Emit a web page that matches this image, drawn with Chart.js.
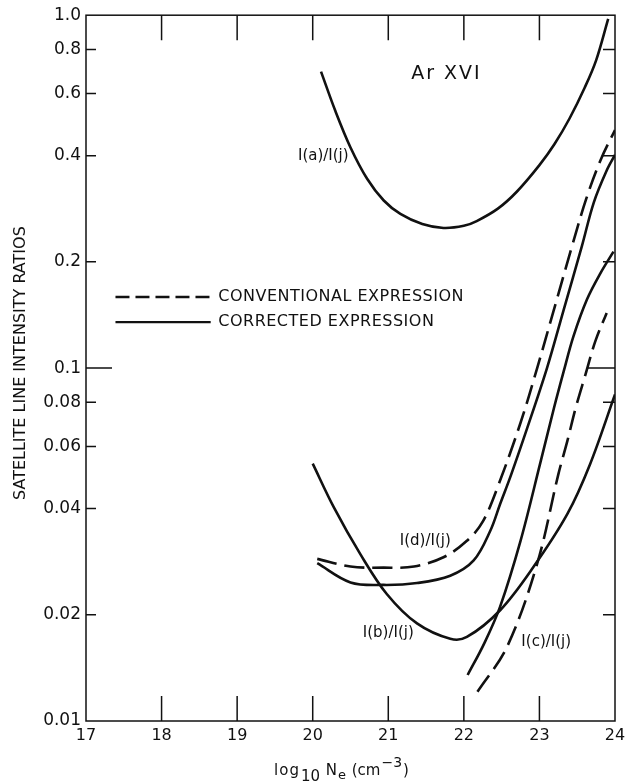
<!DOCTYPE html>
<html>
<head>
<meta charset="utf-8">
<script src="https://cdn.jsdelivr.net/npm/chart.js@4.4.0/dist/chart.umd.min.js"></script>
<style>
  html, body { margin: 0; padding: 0; background: #fff; }
</style>
</head>
<body>
<canvas id="satChart" width="635" height="784"></canvas>
<script>
// Axis ticks
const xTicks = [17, 18, 19, 20, 21, 22, 23, 24];
const yTicks = [1.0, 0.8, 0.6, 0.4, 0.2, 0.1, 0.08, 0.06, 0.04, 0.02, 0.01];
const yTickLabels = ['1.0', '0.8', '0.6', '0.4', '0.2', '0.1', '0.08', '0.06', '0.04', '0.02', '0.01'];

// I(a)/I(j) - corrected expression
const iaX = [20.11, 20.30, 20.50, 20.72, 20.94, 21.16, 21.45, 21.73, 22.0, 22.17, 22.45, 22.70, 23.0, 23.2, 23.4, 23.6, 23.75, 23.91];
const iaY = [0.692, 0.535, 0.422, 0.344, 0.2985, 0.2735, 0.256, 0.2495, 0.253, 0.261, 0.283, 0.316, 0.376, 0.4315, 0.5105, 0.624, 0.745, 0.977];

// I(d)/I(j) - conventional expression
const idConvX = [20.06, 20.5, 20.94, 21.34, 21.73, 22.04, 22.25, 22.46, 22.75, 22.97, 23.19, 23.43, 23.62, 23.81, 24.0];
const idConvY = [0.0288, 0.0274, 0.0272, 0.0274, 0.0291, 0.0324, 0.0367, 0.0468, 0.070, 0.1, 0.146, 0.221, 0.302, 0.389, 0.473];

// I(d)/I(j) - corrected expression
const idCorrX = [20.06, 20.5, 20.94, 21.38, 21.82, 22.13, 22.35, 22.48, 22.62, 22.83, 23.1, 23.32, 23.56, 23.72, 23.89, 24.0];
const idCorrY = [0.028, 0.0247, 0.0243, 0.0246, 0.0258, 0.0285, 0.0346, 0.0412, 0.0495, 0.0668, 0.1, 0.146, 0.221, 0.295, 0.363, 0.402];

// I(b)/I(j) - corrected expression
const ibX = [20.0, 20.28, 20.63, 20.98, 21.38, 21.82, 22.04, 22.48, 22.92, 23.37, 23.67, 24.0];
const ibY = [0.0536, 0.0403, 0.0297, 0.0229, 0.0189, 0.0171, 0.0173, 0.0206, 0.0273, 0.0386, 0.0534, 0.0842];

// I(c)/I(j) - corrected expression
const icCorrX = [22.05, 22.27, 22.48, 22.75, 23.01, 23.19, 23.32, 23.45, 23.63, 23.81, 23.98];
const icCorrY = [0.0135, 0.0166, 0.0211, 0.0324, 0.0537, 0.0767, 0.0977, 0.123, 0.1567, 0.1862, 0.2138];

// I(c)/I(j) - conventional expression
const icConvX = [22.18, 22.57, 22.97, 23.25, 23.37, 23.48, 23.61, 23.74, 23.89];
const icConvY = [0.0121, 0.0162, 0.0279, 0.05, 0.0622, 0.0772, 0.096, 0.1192, 0.1433];

const DASH = [20, 8];
const FONT = '"DejaVu Sans", sans-serif';

function pts(xs, ys) {
    return xs.map((x, i) => ({ x: x, y: ys[i] }));
}

function curve(label, xs, ys, dashed) {
    return {
        label: label,
        data: pts(xs, ys),
        borderColor: '#111',
        borderWidth: 2.6,
        borderDash: dashed ? DASH : [],
        pointRadius: 0,
        fill: false,
        tension: 0.35
    };
}

// Text placed in data coordinates
const notes = [
    { text: 'Ar XVI', x: 21.77, y: 0.68, size: 19, spacing: 2 },
    { text: 'I(a)/I(j)', x: 20.14, y: 0.398, size: 15, spacing: 0 },
    { text: 'I(d)/I(j)', x: 21.49, y: 0.0324, size: 15, spacing: 0 },
    { text: 'I(b)/I(j)', x: 21.0, y: 0.0178, size: 15, spacing: 0 },
    { text: 'I(c)/I(j)', x: 23.09, y: 0.0167, size: 15, spacing: 0 }
];

// Line-style key
const keyItems = [
    { text: 'CONVENTIONAL EXPRESSION', y: 0.159, dashed: true },
    { text: 'CORRECTED EXPRESSION', y: 0.135, dashed: false }
];

const decorPlugin = {
    id: 'decor',
    afterDraw(chart) {
        const { ctx, chartArea: a, scales: { x, y } } = chart;
        ctx.save();
        ctx.strokeStyle = '#111';
        ctx.lineWidth = 1.5;
        ctx.setLineDash([]);
        ctx.strokeRect(a.left, a.top, a.right - a.left, a.bottom - a.top);

        // inward tick marks
        ctx.beginPath();
        xTicks.slice(1, -1).forEach(v => {
            const px = x.getPixelForValue(v);
            ctx.moveTo(px, a.bottom); ctx.lineTo(px, a.bottom - 25);
            ctx.moveTo(px, a.top); ctx.lineTo(px, a.top + 25);
        });
        yTicks.slice(1, -1).forEach(v => {
            const py = y.getPixelForValue(v);
            const big = v === 0.1;
            ctx.moveTo(a.left, py); ctx.lineTo(a.left + (big ? 26 : 10), py);
            ctx.moveTo(a.right, py); ctx.lineTo(a.right - (big ? 28 : 12), py);
        });
        ctx.stroke();

        // curve labels
        ctx.fillStyle = '#111';
        ctx.textAlign = 'center';
        ctx.textBaseline = 'middle';
        notes.forEach(n => {
            ctx.font = n.size + 'px ' + FONT;
            ctx.letterSpacing = n.spacing + 'px';
            ctx.fillText(n.text, x.getPixelForValue(n.x), y.getPixelForValue(n.y));
        });
        ctx.letterSpacing = '0px';

        // key
        const x0 = x.getPixelForValue(17.39), x1 = x.getPixelForValue(18.65), xt = x.getPixelForValue(18.75);
        keyItems.forEach(k => {
            const py = y.getPixelForValue(k.y);
            ctx.beginPath();
            ctx.lineWidth = 2.4;
            ctx.setLineDash(k.dashed ? [14, 6] : []);
            ctx.moveTo(x0, py); ctx.lineTo(x1, py);
            ctx.stroke();
            ctx.setLineDash([]);
            ctx.font = '16px ' + FONT;
            ctx.letterSpacing = '0.5px';
            ctx.textAlign = 'left';
            ctx.fillText(k.text, xt, py);
        });
        ctx.letterSpacing = '0px';

        // y axis title
        ctx.save();
        ctx.translate(21, (a.top + a.bottom) / 2 - 5);
        ctx.rotate(-Math.PI / 2);
        ctx.textAlign = 'center';
        ctx.font = '16px ' + FONT;
        ctx.fillText('SATELLITE LINE INTENSITY RATIOS', 0, 0);
        ctx.restore();

        // x axis title: log10 Ne (cm-3)
        const parts = [
            { t: 'log', size: 15, dy: 0 },
            { t: '10', size: 15, dy: 6 },
            { t: ' N', size: 15, dy: 0 },
            { t: 'e', size: 13, dy: 4 },
            { t: ' (cm', size: 15, dy: 0 },
            { t: '\u22123', size: 14, dy: -8 },
            { t: ')', size: 15, dy: 0 }
        ];
        ctx.textAlign = 'left';
        ctx.textBaseline = 'alphabetic';
        let total = 0;
        parts.forEach(p => { ctx.font = p.size + 'px ' + FONT; total += ctx.measureText(p.t).width + 1; });
        let cx = (a.left + a.right) / 2 - total / 2 - 10;
        const base = 775;
        parts.forEach(p => {
            ctx.font = p.size + 'px ' + FONT;
            ctx.letterSpacing = p.t === 'log' ? '1px' : '0px';
            ctx.fillText(p.t, cx, base + p.dy);
            cx += ctx.measureText(p.t).width + 1;
        });
        ctx.restore();
    }
};

new Chart(document.getElementById('satChart'), {
    type: 'line',
    data: {
        datasets: [
            curve('I(a)/I(j)', iaX, iaY, false),
            curve('I(d)/I(j) conventional', idConvX, idConvY, true),
            curve('I(d)/I(j) corrected', idCorrX, idCorrY, false),
            curve('I(b)/I(j)', ibX, ibY, false),
            curve('I(c)/I(j) corrected', icCorrX, icCorrY, false),
            curve('I(c)/I(j) conventional', icConvX, icConvY, true)
        ]
    },
    options: {
        responsive: false,
        animation: false,
        layout: { padding: { top: 13, right: 20, left: 0, bottom: 0 } },
        plugins: { legend: { display: false }, tooltip: { enabled: false } },
        scales: {
            x: {
                type: 'linear',
                min: 17,
                max: 24,
                afterBuildTicks: s => { s.ticks = xTicks.map(v => ({ value: v })); },
                afterFit: s => { s.height = 63; },
                grid: { display: false, drawTicks: false },
                border: { display: false },
                ticks: { color: '#111', padding: 5, font: { family: FONT, size: 16 }, autoSkip: false, maxRotation: 0 }
            },
            y: {
                type: 'logarithmic',
                min: 0.01,
                max: 1,
                afterBuildTicks: s => { s.ticks = yTicks.map(v => ({ value: v })); },
                afterFit: s => { s.width = 86; },
                grid: { display: false, drawTicks: false },
                border: { display: false },
                ticks: {
                    color: '#111',
                    padding: 5,
                    autoSkip: false,
                    font: { family: FONT, size: 17 },
                    callback: (v, i) => yTickLabels[i]
                }
            }
        }
    },
    plugins: [decorPlugin]
});
</script>
</body>
</html>
